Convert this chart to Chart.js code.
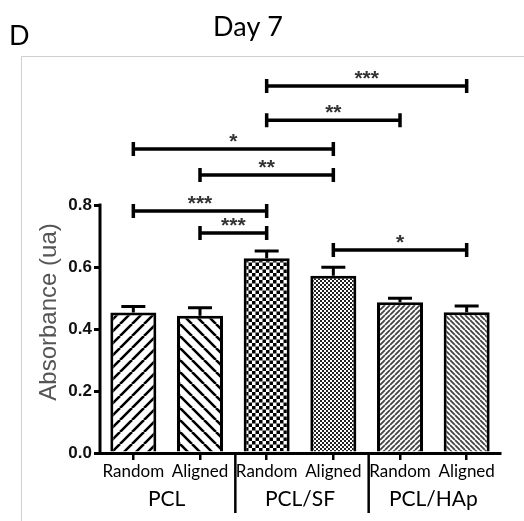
<!DOCTYPE html>
<html>
<head>
<meta charset="utf-8">
<script src="https://cdn.jsdelivr.net/npm/chart.js@4.4.1/dist/chart.umd.min.js"></script>
<style>
  html, body { margin:0; padding:0; background:#fff; }
  #wrap { width:524px; height:521px; }
</style>
</head>
<body>
<div id="wrap"><canvas id="c" width="524" height="521"></canvas></div>
<script>
// ── DATA ───────────────────────────────────────────────
const categories = ['Random', 'Aligned', 'Random', 'Aligned', 'Random', 'Aligned'];
const groups     = ['PCL', 'PCL/SF', 'PCL/HAp'];
const absorbance = [0.453, 0.443, 0.628, 0.572, 0.486, 0.454];
const errors     = [0.020, 0.026, 0.024, 0.027, 0.013, 0.020];
const yTicks     = [0, 0.2, 0.4, 0.6, 0.8];

// significance brackets (category index from / to, height in axis units)
const bracketFrom  = [2, 2, 0, 1, 0, 1, 3];
const bracketTo    = [5, 4, 3, 3, 2, 2, 5];
const bracketLevel = [1.184, 1.074, 0.981, 0.897, 0.781, 0.710, 0.655];
const bracketStars = ['***', '**', '*', '**', '***', '***', '*'];

const canvas = document.getElementById('c');
const mainCtx = canvas.getContext('2d');

// ── FILL PATTERNS ──────────────────────────────────────
function hatch(size, dir, lw, color) {
  const c = document.createElement('canvas');
  c.width = c.height = size;
  const g = c.getContext('2d');
  g.fillStyle = '#fff';
  g.fillRect(0, 0, size, size);
  g.strokeStyle = color;
  g.lineWidth = lw;
  g.beginPath();
  for (let k = -1; k <= 1; k++) {
    if (dir > 0) { g.moveTo(k * size, size); g.lineTo(k * size + size, 0); }
    else         { g.moveTo(k * size, 0);    g.lineTo(k * size + size, size); }
  }
  g.stroke();
  return mainCtx.createPattern(c, 'repeat');
}

function checker(cell, dark) {
  const c = document.createElement('canvas');
  c.width = c.height = cell * 2;
  const g = c.getContext('2d');
  g.fillStyle = '#fff';
  g.fillRect(0, 0, cell * 2, cell * 2);
  g.fillStyle = dark;
  g.fillRect(0, 0, cell, cell);
  g.fillRect(cell, cell, cell, cell);
  return mainCtx.createPattern(c, 'repeat');
}

const fills = [
  hatch(12, 1, 2.6, '#000'),
  hatch(12, -1, 2.6, '#000'),
  checker(3.5, '#000'),
  checker(2, '#222'),
  hatch(5, 1, 1.8, '#444'),
  hatch(5, -1, 1.8, '#444')
];

// ── EXTRA DRAWING: frame, axis, error bars, brackets, labels ──
const decor = {
  id: 'decor',
  beforeDraw(chart) {
    const ctx = chart.ctx;
    ctx.save();
    ctx.strokeStyle = '#cfcfcf';
    ctx.lineWidth = 1;
    ctx.beginPath();
    ctx.moveTo(21.5, 521); ctx.lineTo(21.5, 56.5); ctx.lineTo(524, 56.5);
    ctx.stroke();
    ctx.restore();
  },
  afterDatasetsDraw(chart) {
    const { ctx, scales: { x, y } } = chart;
    const meta = chart.getDatasetMeta(0);
    ctx.save();
    ctx.strokeStyle = '#000';
    ctx.lineCap = 'butt';

    // y axis line, only up to the last tick
    ctx.lineWidth = 3;
    ctx.beginPath();
    ctx.moveTo(x.left, y.getPixelForValue(0) + 1.5);
    ctx.lineTo(x.left, y.getPixelForValue(yTicks[yTicks.length - 1]) - 1.5);
    ctx.stroke();

    // error bars (upper only)
    absorbance.forEach((v, i) => {
      const px = meta.data[i].x;
      const top = y.getPixelForValue(v);
      const hi = y.getPixelForValue(v + errors[i]);
      ctx.lineWidth = 3;
      ctx.beginPath();
      ctx.moveTo(px, top); ctx.lineTo(px, hi);
      ctx.moveTo(px - 12, hi); ctx.lineTo(px + 12, hi);
      ctx.stroke();
    });

    // significance brackets
    bracketFrom.forEach((f, i) => {
      const x1 = x.getPixelForValue(f);
      const x2 = x.getPixelForValue(bracketTo[i]);
      const py = y.getPixelForValue(bracketLevel[i]);
      ctx.lineWidth = 3.5;
      ctx.beginPath();
      ctx.moveTo(x1, py); ctx.lineTo(x2, py);
      ctx.moveTo(x1, py - 7); ctx.lineTo(x1, py + 7);
      ctx.moveTo(x2, py - 7); ctx.lineTo(x2, py + 7);
      ctx.stroke();
      ctx.fillStyle = '#333';
      ctx.font = 'bold 21px "Liberation Sans", Arial, sans-serif';
      ctx.textAlign = 'center';
      ctx.textBaseline = 'alphabetic';
      ctx.fillText(bracketStars[i], (x1 + x2) / 2, py - 1);
    });
    ctx.restore();
  },
  afterDraw(chart) {
    const { ctx, scales: { x, y } } = chart;
    ctx.save();
    // group separators + group names
    ctx.strokeStyle = '#000';
    ctx.lineWidth = 2.5;
    const base = y.getPixelForValue(0);
    [1, 3].forEach(i => {
      const px = (x.getPixelForValue(i) + x.getPixelForValue(i + 1)) / 2 + 2;
      ctx.beginPath();
      ctx.moveTo(px, base); ctx.lineTo(px, 513);
      ctx.stroke();
    });
    ctx.fillStyle = '#000';
    ctx.font = '21px Lato, "Open Sans", sans-serif';
    ctx.textAlign = 'center';
    ctx.textBaseline = 'middle';
    groups.forEach((g, i) => {
      const px = (x.getPixelForValue(2 * i) + x.getPixelForValue(2 * i + 1)) / 2;
      ctx.fillText(g, px, 499);
    });

    // y axis title
    ctx.save();
    ctx.translate(49, 312);
    ctx.rotate(-Math.PI / 2);
    ctx.fillStyle = '#555';
    ctx.font = '24px "Liberation Sans", Arial, sans-serif';
    ctx.fillText('Absorbance (ua)', 0, 0);
    ctx.restore();

    // panel letter + title
    ctx.fillStyle = '#000';
    ctx.font = '27px Lato, "Open Sans", sans-serif';
    ctx.textAlign = 'left';
    ctx.textBaseline = 'alphabetic';
    ctx.fillText('D', 9, 45);
    ctx.textAlign = 'center';
    ctx.fillText('Day 7', 248, 36);
    ctx.restore();
  }
};

// ── CHART ───────────────────────────────────────────────
new Chart(mainCtx, {
  type: 'bar',
  data: {
    labels: categories,
    datasets: [{
      data: absorbance,
      backgroundColor: fills,
      borderColor: '#000',
      borderWidth: 3,
      barPercentage: 0.69,
      categoryPercentage: 1.0
    }]
  },
  options: {
    responsive: false,
    animation: false,
    layout: { padding: { top: 60, right: 24, left: 0, bottom: 0 } },
    plugins: {
      legend: { display: false },
      tooltip: { enabled: false }
    },
    scales: {
      x: {
        afterFit: s => { s.height = 68; },
        border: { display: true, color: '#000', width: 3 },
        grid: { display: true, drawOnChartArea: false, offset: false, tickLength: 7, lineWidth: 2.5, color: '#000' },
        ticks: { color: '#000', font: { family: 'Lato', size: 17 }, padding: 1, maxRotation: 0, autoSkip: false }
      },
      y: {
        min: 0,
        max: 1.268,
        afterFit: s => { s.width = 100; },
        afterBuildTicks: s => { s.ticks = yTicks.map(v => ({ value: v })); },
        border: { display: false },
        grid: { display: true, drawOnChartArea: false, tickLength: 6, lineWidth: 3, color: '#000' },
        ticks: {
          color: '#111',
          padding: 2,
          font: { family: 'Liberation Sans', size: 17, weight: 'bold' },
          callback: v => Number(v).toFixed(1)
        }
      }
    }
  },
  plugins: [decor]
});
</script>
</body>
</html>
